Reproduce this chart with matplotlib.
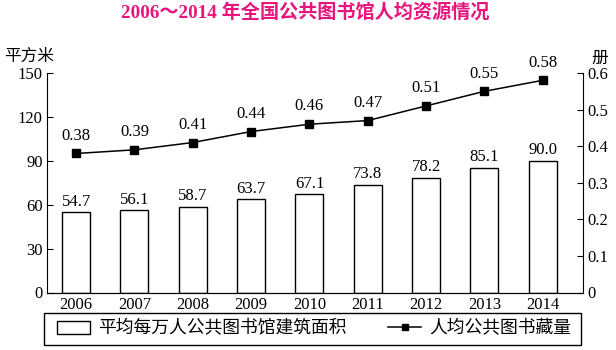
import matplotlib
matplotlib.use("Agg")
import matplotlib.pyplot as plt
from matplotlib.patches import Patch, Rectangle
from matplotlib.lines import Line2D

plt.rcParams['font.family'] = ['Liberation Serif', 'Noto Sans CJK SC']

years = ['2006', '2007', '2008', '2009', '2010', '2011', '2012', '2013', '2014']
area = [54.7, 56.1, 58.7, 63.7, 67.1, 73.8, 78.2, 85.1, 90.0]
books = [0.38, 0.39, 0.41, 0.44, 0.46, 0.47, 0.51, 0.55, 0.58]
left_ticks = [0, 30, 60, 90, 120, 150]
right_ticks = [0, 0.1, 0.2, 0.3, 0.4, 0.5, 0.6]
right_labels = ['0', '0.1', '0.2', '0.3', '0.4', '0.5', '0.6']

fig = plt.figure(figsize=(6.16, 3.5), dpi=100)
ax = fig.add_axes([47/616, 1-292.5/350, (583-47)/616, (292.5-73)/350])
x = list(range(len(years)))
ax.bar(x, area, width=0.48, color='white', edgecolor='black', linewidth=1.0, zorder=2)
for xi, v in zip(x, area):
    ax.annotate(f'{v:.1f}', (xi, v), xytext=(0, 2), textcoords='offset points',
                ha='center', va='bottom', fontsize=12)
ax.set_xlim(-0.5, 8.69)
ax.set_ylim(0, 150)
ax.set_yticks(left_ticks)
ax.set_yticklabels([str(t) for t in left_ticks])
ax.set_xticks(x)
ax.set_xticklabels(years)
ax.tick_params(axis='x', length=0, labelsize=12, pad=3)
ax.tick_params(axis='y', direction='in', length=4, labelsize=12, pad=3)
ax.spines['top'].set_visible(False)
ax.spines['right'].set_visible(False)

ax2 = ax.twinx()
ax2.plot(x, books, color='black', marker='s', markersize=6, linewidth=1.1, zorder=3)
for xi, v in zip(x, books):
    ax2.annotate(f'{v:.2f}', (xi, v), xytext=(0, 7), textcoords='offset points',
                 ha='center', va='bottom', fontsize=12)
ax2.set_ylim(0, 0.6)
ax2.set_yticks(right_ticks)
ax2.set_yticklabels(right_labels)
ax2.tick_params(axis='y', direction='in', length=4, labelsize=12, pad=3)
ax2.spines['top'].set_visible(False)
ax2.spines['left'].set_visible(False)

fig.text(4/616, 1-57/350, '平方米', fontsize=12, ha='left', va='center')
fig.text(600/616, 1-59/350, '册', fontsize=12, ha='center', va='center')
fig.text(305/616, 1-13/350, '2006～2014 年全国公共图书馆人均资源情况', fontsize=13.8,
         fontweight='bold', color='#E8157D', ha='center', va='center')

handles = [Patch(facecolor='white', edgecolor='black', linewidth=1.0),
           Line2D([0], [0], color='black', marker='s', markersize=5, linewidth=1.1)]
labels = ['平均每万人公共图书馆建筑面积', '人均公共图书藏量']
leg = fig.legend(handles, labels, ncol=2, loc='center', mode='expand',
                 bbox_to_anchor=(57/616, 1-345/350, (571-57)/616, 32/350),
                 borderaxespad=0, frameon=False,
                 fontsize=12.8, handlelength=1.85, handletextpad=0.45, columnspacing=1,
                 borderpad=0)
fig.add_artist(Rectangle((44/616, 1-345/350), 537/616, 32/350, transform=fig.transFigure,
                         fill=False, edgecolor='black', linewidth=1.0))

fig.savefig('out.png', dpi=100)
